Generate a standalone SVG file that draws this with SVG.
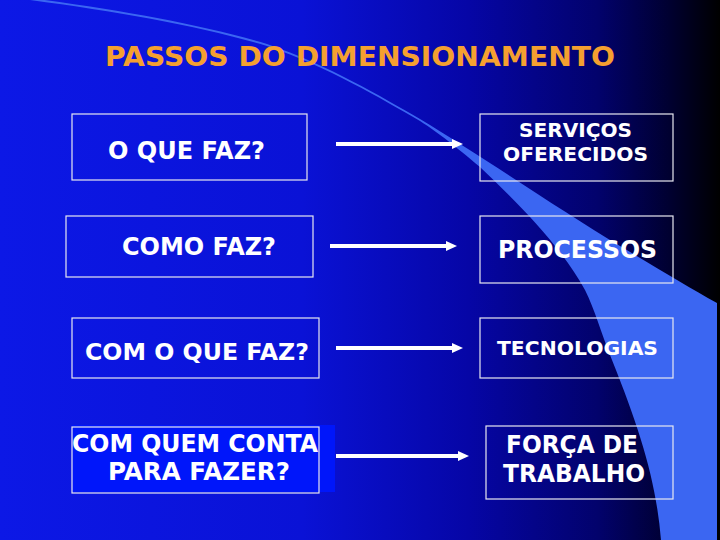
<svg xmlns="http://www.w3.org/2000/svg" width="720" height="540" viewBox="0 0 720 540">
  <defs>
    <linearGradient id="bg" x1="0" y1="0" x2="1" y2="0">
      <stop offset="0" stop-color="#0c18e6"/>
      <stop offset="0.42" stop-color="#0a12d6"/>
      <stop offset="0.65" stop-color="#0606a6"/>
      <stop offset="0.83" stop-color="#02026c"/>
      <stop offset="0.93" stop-color="#000030"/>
      <stop offset="1" stop-color="#000000"/>
    </linearGradient>
    <marker id="ah" markerUnits="userSpaceOnUse" markerWidth="11" markerHeight="11" refX="0" refY="5" orient="auto" viewBox="0 0 11 10">
      <path d="M0,0 L11,5 L0,10 z" fill="#ffffff"/>
    </marker>
    <style>
      .box { fill: none; stroke: #e8e8f0; stroke-width: 1.2; }
      .lbl { font-family: "DejaVu Sans", Verdana, sans-serif; font-weight: bold; fill: #ffffff; text-anchor: middle; }
      .arrow { stroke: #ffffff; stroke-width: 4; fill: none; marker-end: url(#ah); }
      .title { font-family: "DejaVu Sans", Verdana, sans-serif; font-weight: bold; fill: #f5a030; font-size: 27px; }
    </style>
  </defs>

  <rect x="0" y="0" width="720" height="540" fill="url(#bg)"/>
  <path d="M 30,-2 C 120,10 200,24 267,44 C 330,66 380,96 420,119 C 480,155 560,210 620,246 C 660,270 690,288 717,303 L 717,540 L 661,540 C 656,480 640,430 612,360 C 600,330 595,310 585,290 C 560,245 520,205 480,167 C 455,146 440,134 420,121 C 380,98 330,68 267,46 C 200,26 120,12 30,0 Z" fill="#3b66f2"/>

  <text class="title" x="360" y="66" text-anchor="middle" textLength="510" lengthAdjust="spacingAndGlyphs">PASSOS DO DIMENSIONAMENTO</text>

  <g id="n1">
    <rect class="box" x="72" y="114" width="235" height="66"/>
    <text class="lbl" x="186.5" y="159" font-size="24" textLength="157" lengthAdjust="spacingAndGlyphs">O QUE FAZ?</text>
  </g>
  <g id="n2">
    <rect class="box" x="66" y="216" width="247" height="61"/>
    <text class="lbl" x="199" y="255" font-size="24" textLength="154" lengthAdjust="spacingAndGlyphs">COMO FAZ?</text>
  </g>
  <g id="n3">
    <rect class="box" x="72" y="318" width="247" height="60"/>
    <text class="lbl" x="197" y="360" font-size="23" textLength="224" lengthAdjust="spacingAndGlyphs">COM O QUE FAZ?</text>
  </g>
  <g id="n4">
    <rect x="72" y="425" width="263" height="67" fill="#0016fa"/>
    <rect class="box" x="72" y="427" width="247" height="66"/>
    <text class="lbl" x="195" y="452" font-size="24" textLength="246" lengthAdjust="spacingAndGlyphs">COM QUEM CONTA</text>
    <text class="lbl" x="199" y="480" font-size="24" textLength="182" lengthAdjust="spacingAndGlyphs">PARA FAZER?</text>
  </g>

  <g id="r1">
    <rect class="box" x="480" y="114" width="193" height="67"/>
    <text class="lbl" x="575.5" y="137" font-size="20" textLength="113" lengthAdjust="spacingAndGlyphs">SERVIÇOS</text>
    <text class="lbl" x="575.5" y="161" font-size="20" textLength="145" lengthAdjust="spacingAndGlyphs">OFERECIDOS</text>
  </g>
  <g id="r2">
    <rect class="box" x="480" y="216" width="193" height="67"/>
    <text class="lbl" x="577.5" y="258" font-size="24" textLength="159" lengthAdjust="spacingAndGlyphs">PROCESSOS</text>
  </g>
  <g id="r3">
    <rect class="box" x="480" y="318" width="193" height="60"/>
    <text class="lbl" x="577.5" y="355" font-size="20" textLength="161" lengthAdjust="spacingAndGlyphs">TECNOLOGIAS</text>
  </g>
  <g id="r4">
    <rect class="box" x="486" y="426" width="187" height="73"/>
    <text class="lbl" x="572" y="453" font-size="24" textLength="132" lengthAdjust="spacingAndGlyphs">FORÇA DE</text>
    <text class="lbl" x="574" y="482" font-size="24" textLength="142" lengthAdjust="spacingAndGlyphs">TRABALHO</text>
  </g>

  <g id="connectors">
    <line class="arrow" x1="336" y1="144" x2="452" y2="144"/>
    <line class="arrow" x1="330" y1="246" x2="446" y2="246"/>
    <line class="arrow" x1="336" y1="348" x2="452" y2="348"/>
    <line class="arrow" x1="336" y1="456" x2="458" y2="456"/>
  </g>
</svg>
